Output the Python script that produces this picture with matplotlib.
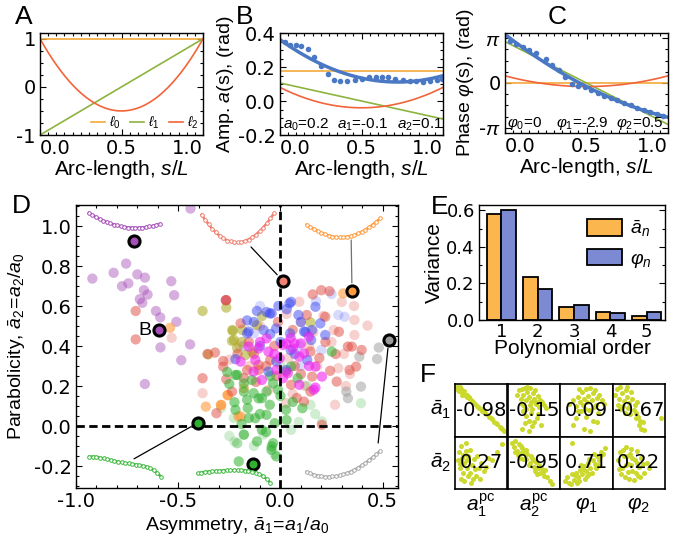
import numpy as np
import matplotlib.pyplot as plt
from matplotlib.ticker import MultipleLocator
from matplotlib.patches import Patch

plt.rcParams['font.family'] = ['Liberation Sans', 'DejaVu Sans']
plt.rcParams['mathtext.fontset'] = 'custom'
plt.rcParams['mathtext.rm'] = 'Liberation Sans'
plt.rcParams['mathtext.it'] = 'Liberation Sans:italic'
plt.rcParams['mathtext.bf'] = 'Liberation Sans:bold'
plt.rcParams['axes.linewidth'] = 1.0

# ---------------- data ----------------
# B: amplitude profile, Legendre coefficients of the fit and the measured points
amp_coef = [0.175, -0.106, 0.08]
amp_s = [0.031, 0.061, 0.096, 0.129, 0.169, 0.210, 0.249, 0.292, 0.333, 0.371, 0.412, 0.459,
         0.504, 0.545, 0.586, 0.624, 0.665, 0.708, 0.753, 0.796, 0.837, 0.878, 0.918, 0.963, 0.996]
amp_a = [0.345, 0.329, 0.327, 0.321, 0.304, 0.258, 0.203, 0.156, 0.124, 0.115, 0.119, 0.124,
         0.132, 0.142, 0.144, 0.144, 0.140, 0.132, 0.126, 0.120, 0.115, 0.113, 0.117, 0.122, 0.128]
amp_text = [r'$a_0$=0.2', r'$a_1$=-0.1', r'$a_2$=0.1']

# C: phase profile
phase_coef = [0.0, -2.9, 0.5]
phase_s = [0.03, 0.07, 0.11, 0.15, 0.19, 0.25, 0.29, 0.33, 0.37, 0.41, 0.45, 0.49,
           0.53, 0.57, 0.61, 0.65, 0.69, 0.73, 0.77, 0.81, 0.85, 0.89, 0.93, 0.97]
phase_v = [2.95, 2.72, 2.50, 2.33, 2.08, 1.70, 1.28, 0.88, 0.42, -0.05, -0.18, -0.30,
           -0.50, -0.72, -0.88, -1.05, -1.22, -1.38, -1.55, -1.72, -1.90, -2.05, -2.20, -2.30]
phase_text = [r'$\varphi_0$=0', r'$\varphi_1$=-2.9', r'$\varphi_2$=0.5']

# D: scatter of (asymmetry, parabolicity), grouped by colour
purple_x = [-0.92, -0.816, -0.755, -0.775, -0.744, -0.70, -0.663, -0.668, -0.65, -0.688, -0.676,
            -0.534, -0.52, -0.609, -0.588, -0.509, -0.587, -0.442, -0.485, -0.663, -0.44, -0.267]
purple_y = [0.737, 0.766, 0.812, 0.699, 0.713, 0.758, 0.742, 0.679, 0.657, 0.634, 0.616,
            0.724, 0.654, 0.575, 0.543, 0.521, 0.393, 0.408, 0.329, 0.210, 1.087, 0.629]
red_x = [-0.708, -0.708, -0.357, -0.320, -0.265, -0.381, -0.265, -0.28, -0.28, -0.313, -0.237, -0.267,
         0.219, 0.286, 0.330, 0.397, 0.349, 0.370, 0.338, 0.203, 0.275, 0.243, 0.147, -0.163, -0.107,
         0.028, 0.155, 0.147, 0.115, 0.052, -0.107, 0.24, 0.20, 0.158, -0.13, -0.05, 0.07, -0.02,
         -0.195, -0.155, -0.012, 0.129, 0.06, -0.07, -0.18, -0.03, 0.10, 0.19, -0.12, 0.08, -0.21,
         0.22, 0.27]
red_y = [0.575, 0.433, 0.36, 0.367, 0.629, 0.239, 0.234, 0.325, 0.297, 0.064, 0.172, 0.629,
         0.546, 0.471, 0.397, 0.380, 0.397, 0.297, 0.280, 0.006, 0.222, 0.276, 0.372, 0.280, 0.305,
         0.272, 0.247, 0.172, 0.122, 0.206, 0.280, 0.674, 0.679, 0.658, 0.36, 0.33, 0.30, 0.25,
         0.513, 0.42, 0.52, 0.555, 0.48, 0.30, 0.24, 0.40, 0.26, 0.34, 0.22, 0.14, 0.36,
         0.42, 0.36]
red_light_x = [-0.532, -0.381, -0.249, 0.092, 0.362, 0.426, 0.362, 0.267, 0.028, 0.283,
               0.30, 0.10, 0.25, 0.18, 0.32, -0.20, 0.06, 0.14, 0.21, 0.31,
               -0.10, 0.03, 0.16, 0.04, -0.15, 0.12, -0.06, 0.26, 0.34, 0.36]
red_light_y = [0.441, 0.164, 0.332, 0.621, 0.530, 0.502, 0.455, 0.106, 0.114, 0.289,
               0.62, 0.52, 0.42, 0.30, 0.20, 0.40, 0.16, 0.40, 0.55, 0.36,
               0.50, 0.56, 0.47, 0.34, 0.30, 0.20, 0.18, 0.48, 0.26, 0.60]
orange_x = [-0.54, -0.365, -0.290, -0.257, -0.206, -0.195, -0.179, -0.259, -0.291, 0.307]
orange_y = [0.491, 0.097, 0.104, 0.154, 0.048, 0.048, 0.189, 0.155, 0.106, 0.663]
olive_x = [-0.381, -0.265, -0.233, -0.237, -0.353, -0.212, -0.235, -0.187, -0.227, -0.171,
           -0.115, 0.147, -0.139, -0.19, -0.09]
olive_y = [0.575, 0.592, 0.475, 0.425, 0.358, 0.39, 0.48, 0.48, 0.43, 0.355,
           0.505, 0.518, 0.372, 0.42, 0.55]
blue_x = [0.052, 0.031, 0.088, -0.052, -0.115, -0.068, -0.163, 0.171, 0.195, 0.155, 0.115, 0.047,
          -0.021, -0.083, 0.219, -0.156, 0.044, -0.043, -0.163, 0.123, -0.059, 0.028, -0.020, 0.131,
          -0.22, 0.0, -0.10, 0.07, -0.01, 0.10, -0.13, 0.15, 0.05, -0.05]
blue_y = [0.621, 0.584, 0.555, 0.563, 0.575, 0.570, 0.528, 0.596, 0.513, 0.480, 0.472, 0.463,
          0.488, 0.480, 0.455, 0.472, 0.613, 0.563, 0.463, 0.471, 0.272, 0.280, 0.322, 0.330,
          0.334, 0.42, 0.40, 0.36, 0.60, 0.52, 0.52, 0.43, 0.38, 0.46]
blue_light_x = [0.174, -0.13, 0.314, 0.283, 0.092, 0.25, -0.10, 0.20, 0.10, -0.18]
blue_light_y = [0.624, 0.463, 0.546, 0.555, 0.405, 0.66, 0.60, 0.38, 0.30, 0.40]
magenta_x = [0.100, 0.060, 0.012, -0.059, -0.123, -0.004, 0.139, 0.203, 0.171, 0.092, 0.012, -0.131,
             -0.155, -0.107, -0.068, 0.028, 0.068, 0.092, 0.115, 0.163, 0.171, -0.091, 0.036, -0.195,
             -0.03, 0.05, -0.10, 0.14, -0.02]
magenta_y = [0.413, 0.388, 0.405, 0.372, 0.330, 0.338, 0.447, 0.247, 0.192, 0.206, 0.239, 0.272,
             0.397, 0.388, 0.438, 0.413, 0.413, 0.347, 0.363, 0.181, 0.297, 0.230, 0.264, 0.322,
             0.36, 0.44, 0.42, 0.30, 0.28]
green_x = [-0.220, -0.225, -0.220, -0.204, 0.052, 0.084, -0.068, -0.131, -0.179, -0.211, -0.163,
           -0.091, -0.052, 0.027, 0.107, -0.155, -0.068, -0.028, -0.179, -0.115, -0.036, -0.044,
           -0.020, 0.251, -0.179, -0.107, -0.036, -0.012, -0.123, -0.091, -0.043,
           -0.16, -0.10, -0.05, -0.25, 0.06, -0.14, 0.00, -0.19, -0.07, 0.03, -0.26]
green_y = [0.255, 0.119, 0.081, -0.177, 0.297, 0.239, 0.172, 0.164, 0.172, 0.255, 0.131,
           0.139, 0.106, 0.081, 0.089, 0.040, 0.056, 0.014, -0.043, -0.077, -0.086, -0.119,
           -0.152, 0.372, 0.213, 0.138, 0.213, 0.181, 0.039, -0.019, -0.102,
           0.09, 0.06, 0.25, 0.21, 0.12, 0.23, 0.15, 0.01, -0.03, 0.03, 0.27]
green_light_x = [-0.225, -0.212, -0.228, -0.001, 0.147, 0.052, -0.211, 0.203, -0.083, 0.394, -0.179,
                 -0.13, -0.25, 0.09, -0.03, 0.13, 0.17, -0.29]
green_light_y = [-0.078, -0.086, 0.04, 0.308, 0.106, -0.019, -0.086, 0.023, -0.043, 0.114, -0.044,
                 -0.10, -0.05, 0.02, -0.14, 0.20, 0.06, 0.09]
gray_x = [0.481, 0.473, 0.386, 0.394, 0.322, 0.330]
gray_y = [0.392, 0.335, 0.347, 0.197, 0.172, 0.139]

# D: highlighted example worms
hl_x = [-0.714, 0.012, 0.35, 0.53, -0.402, -0.135, -0.593]
hl_y = [0.924, 0.726, 0.674, 0.43, 0.017, -0.19, 0.478]

# D: amplitude profiles shown as insets (21 points along the body)
prof_purple = [1.00, 0.88, 0.75, 0.64, 0.52, 0.45, 0.36, 0.28, 0.24, 0.17, 0.15, 0.10, 0.10, 0.08,
               0.10, 0.10, 0.13, 0.17, 0.20, 0.27, 0.33]
prof_salmon = [1.00, 0.80, 0.66, 0.47, 0.36, 0.22, 0.16, 0.06, 0.05, 0.00, 0.02, 0.00, 0.06, 0.10,
               0.20, 0.27, 0.42, 0.52, 0.70, 0.86, 1.05]
prof_orange = [0.65, 0.55, 0.44, 0.34, 0.24, 0.16, 0.09, 0.04, 0.01, 0.00, 0.01, 0.03, 0.07, 0.13,
               0.20, 0.29, 0.40, 0.52, 0.66, 0.82, 1.00]
prof_gray = [0.19, 0.13, 0.08, 0.04, 0.02, 0.00, 0.00, 0.01, 0.02, 0.05, 0.09, 0.14, 0.20, 0.27,
             0.35, 0.44, 0.54, 0.64, 0.75, 0.87, 1.00]
prof_green1 = [1.00, 0.99, 0.97, 0.95, 0.92, 0.87, 0.82, 0.78, 0.75, 0.72, 0.70, 0.67, 0.63, 0.60,
               0.58, 0.55, 0.50, 0.43, 0.33, 0.18, 0.02]
prof_green2 = [0.75, 0.80, 0.84, 0.88, 0.90, 0.91, 0.93, 0.95, 0.97, 0.99, 1.00, 1.00, 0.98, 0.95,
               0.91, 0.86, 0.80, 0.71, 0.58, 0.35, 0.05]

# E: variance explained per polynomial order
orders = [1, 2, 3, 4, 5]
var_a = [0.582, 0.235, 0.071, 0.044, 0.022]
var_phi = [0.600, 0.172, 0.084, 0.037, 0.042]

# F: correlation matrix and the scatter clouds (normalised cell coords)
row_labels = [r'$\bar{a}_1$', r'$\bar{a}_2$']
col_labels = [r'$a_1^{\rm pc}$', r'$a_2^{\rm pc}$', r'$\varphi_1$', r'$\varphi_2$']
corr = [[-0.98, -0.15, 0.09, -0.67], [0.27, -0.95, 0.71, 0.22]]
f00_u = [0.03, 0.06, 0.08, 0.10, 0.13, 0.15, 0.18, 0.20, 0.23, 0.26, 0.29, 0.32, 0.35, 0.38, 0.42, 0.46,
         0.50, 0.55, 0.60, 0.65, 0.70, 0.75, 0.80, 0.85, 0.90, 0.94, 0.05, 0.12, 0.09, 0.17, 0.22, 0.07, 0.14,
         0.44, 0.52, 0.58, 0.68, 0.78, 0.88, 0.33, 0.27]
f00_v = [0.94, 0.92, 0.90, 0.86, 0.86, 0.82, 0.81, 0.78, 0.76, 0.73, 0.71, 0.67, 0.65, 0.62, 0.58, 0.55,
         0.52, 0.46, 0.42, 0.38, 0.33, 0.28, 0.24, 0.19, 0.15, 0.10, 0.88, 0.90, 0.94, 0.86, 0.80, 0.86, 0.79,
         0.56, 0.49, 0.44, 0.35, 0.26, 0.17, 0.68, 0.75]
f01_u = [0.18, 0.22, 0.25, 0.28, 0.30, 0.33, 0.35, 0.38, 0.40, 0.42, 0.45, 0.48, 0.50, 0.53, 0.55, 0.58,
         0.62, 0.66, 0.70, 0.74, 0.27, 0.32, 0.37, 0.43, 0.47, 0.52, 0.60, 0.30, 0.36, 0.41, 0.46, 0.56,
         0.28, 0.33, 0.40, 0.50, 0.58, 0.64, 0.35, 0.45]
f01_v = [0.80, 0.88, 0.72, 0.90, 0.80, 0.93, 0.70, 0.85, 0.76, 0.92, 0.66, 0.82, 0.72, 0.88, 0.62, 0.78,
         0.70, 0.66, 0.60, 0.55, 0.62, 0.58, 0.94, 0.60, 0.52, 0.68, 0.56, 0.48, 0.40, 0.30, 0.20, 0.35,
         0.15, 0.25, 0.10, 0.28, 0.42, 0.22, 0.52, 0.45]
f02_u = [0.18, 0.24, 0.30, 0.34, 0.38, 0.42, 0.46, 0.50, 0.54, 0.58, 0.62, 0.66, 0.70, 0.75, 0.80, 0.84,
         0.36, 0.44, 0.52, 0.60, 0.68, 0.48, 0.56, 0.64, 0.40, 0.72, 0.30, 0.50, 0.62, 0.25, 0.45, 0.58,
         0.70, 0.35]
f02_v = [0.62, 0.70, 0.58, 0.76, 0.66, 0.84, 0.72, 0.90, 0.78, 0.93, 0.82, 0.88, 0.74, 0.80, 0.70, 0.62,
         0.90, 0.60, 0.66, 0.70, 0.60, 0.52, 0.50, 0.56, 0.48, 0.45, 0.35, 0.38, 0.30, 0.22, 0.15, 0.10,
         0.28, 0.48]
f03_u = [0.05, 0.08, 0.12, 0.15, 0.18, 0.22, 0.25, 0.28, 0.32, 0.35, 0.38, 0.42, 0.46, 0.10, 0.20, 0.30,
         0.40, 0.14, 0.24, 0.34, 0.44, 0.48, 0.52, 0.50, 0.55, 0.58, 0.45, 0.60, 0.92, 0.28]
f03_v = [0.80, 0.90, 0.72, 0.94, 0.82, 0.68, 0.88, 0.76, 0.64, 0.84, 0.72, 0.60, 0.66, 0.60, 0.58, 0.55,
         0.50, 0.52, 0.45, 0.42, 0.45, 0.38, 0.30, 0.22, 0.15, 0.28, 0.35, 0.12, 0.35, 0.95]
f10_u = [0.06, 0.08, 0.10, 0.12, 0.14, 0.16, 0.18, 0.20, 0.22, 0.25, 0.28, 0.32, 0.36, 0.40, 0.45, 0.50,
         0.56, 0.62, 0.70, 0.80, 0.90, 0.12, 0.18, 0.24, 0.30, 0.10, 0.20, 0.35, 0.28, 0.15, 0.42, 0.48,
         0.22, 0.38, 0.60]
f10_v = [0.55, 0.70, 0.40, 0.82, 0.60, 0.30, 0.50, 0.72, 0.40, 0.62, 0.30, 0.45, 0.58, 0.25, 0.40, 0.50,
         0.35, 0.60, 0.55, 0.70, 0.85, 0.20, 0.15, 0.25, 0.12, 0.48, 0.88, 0.20, 0.75, 0.65, 0.62, 0.20,
         0.55, 0.38, 0.42]
f11_u = [0.08, 0.12, 0.15, 0.18, 0.22, 0.25, 0.28, 0.32, 0.35, 0.38, 0.42, 0.46, 0.50, 0.54, 0.58, 0.62,
         0.66, 0.70, 0.75, 0.80, 0.85, 0.14, 0.20, 0.26, 0.30, 0.36, 0.44, 0.52, 0.60, 0.68, 0.24, 0.40,
         0.48, 0.56, 0.72]
f11_v = [0.88, 0.80, 0.92, 0.72, 0.85, 0.68, 0.78, 0.70, 0.58, 0.66, 0.50, 0.60, 0.42, 0.52, 0.40, 0.30,
         0.38, 0.25, 0.22, 0.15, 0.10, 0.70, 0.64, 0.82, 0.58, 0.74, 0.62, 0.34, 0.46, 0.32, 0.60, 0.45,
         0.55, 0.28, 0.36]
f12_u = [0.10, 0.14, 0.18, 0.22, 0.26, 0.30, 0.34, 0.38, 0.42, 0.46, 0.50, 0.54, 0.58, 0.62, 0.66, 0.70,
         0.74, 0.78, 0.82, 0.86, 0.20, 0.28, 0.36, 0.44, 0.52, 0.60, 0.68, 0.76, 0.32, 0.48, 0.56, 0.64,
         0.72, 0.40, 0.56, 0.22]
f12_v = [0.15, 0.22, 0.12, 0.28, 0.18, 0.30, 0.22, 0.36, 0.28, 0.44, 0.34, 0.50, 0.40, 0.56, 0.48, 0.62,
         0.55, 0.70, 0.66, 0.78, 0.10, 0.26, 0.16, 0.38, 0.24, 0.30, 0.40, 0.62, 0.12, 0.20, 0.58, 0.66,
         0.46, 0.45, 0.28, 0.88]
f13_u = [0.10, 0.14, 0.18, 0.22, 0.26, 0.30, 0.34, 0.38, 0.42, 0.46, 0.50, 0.55, 0.60, 0.65, 0.70, 0.16,
         0.24, 0.32, 0.40, 0.48, 0.20, 0.28, 0.36, 0.44, 0.52, 0.12, 0.58, 0.30, 0.38, 0.46, 0.25, 0.35]
f13_v = [0.55, 0.70, 0.40, 0.62, 0.80, 0.48, 0.66, 0.35, 0.55, 0.72, 0.42, 0.60, 0.30, 0.50, 0.40, 0.28,
         0.22, 0.20, 0.18, 0.25, 0.75, 0.62, 0.45, 0.30, 0.22, 0.38, 0.48, 0.32, 0.60, 0.50, 0.45, 0.76]

# ---------------- styling ----------------
c_l0, c_l1, c_l2, c_fit = '#f2a93b', '#8cb43e', '#f2643a', '#4a78c4'
c_purple, c_red, c_orange, c_olive = '#a64fb8', '#e0483e', '#ff9a3c', '#a8a820'
c_blue, c_magenta, c_green, c_gray = '#3b46f0', '#f020f0', '#2eb02e', '#9a9a9a'
c_fdot = '#cbd82c'
num_font = 'DejaVu Sans'

W, H = 689, 542


def box(x0, y0, x1, y1):
    return [x0 / W, 1 - y1 / H, (x1 - x0) / W, (y1 - y0) / H]


def frame(ax, size=14):
    ax.tick_params(which='both', direction='in', top=True, right=True, labelsize=size, width=0.8, pad=3)
    ax.tick_params(which='major', length=4)
    ax.tick_params(which='minor', length=2)
    for lab in ax.get_xticklabels() + ax.get_yticklabels():
        lab.set_fontfamily(num_font)


def inset_xlabels(ax):
    labs = ax.get_xticklabels()
    labs[0].set_horizontalalignment('left')
    labs[-1].set_horizontalalignment('right')


fig = plt.figure(figsize=(W / 100, H / 100), dpi=100)

s = np.linspace(0, 1, 201)
leg = [np.ones_like(s), 2 * s - 1, 6 * s ** 2 - 6 * s + 1]
leg_col = [c_l0, c_l1, c_l2]

# ---- A: Legendre basis
axA = fig.add_axes(box(40, 33, 203, 135))
for k in range(3):
    axA.plot(s, leg[k], color=leg_col[k], lw=1.2, label=r'$\ell_%d$' % k)
axA.set_xlim(0, 1)
axA.set_ylim(-1, 1.12)
axA.set_yticks([-1, 0, 1], ['-1', '0', '1'])
axA.set_xticks([0, 0.5, 1], ['0.0', '0.5', '1.0'])
axA.xaxis.set_minor_locator(MultipleLocator(0.05))
axA.yaxis.set_minor_locator(MultipleLocator(0.25))
frame(axA)
inset_xlabels(axA)
axA.set_xlabel(r'Arc-length, $s/L$', fontsize=15, labelpad=0)
axA.legend(loc='lower right', ncol=3, fontsize=10, frameon=False, handlelength=1.0,
           handletextpad=0.3, columnspacing=0.7, borderaxespad=0.1, borderpad=0.2)

# ---- B: amplitude
axB = fig.add_axes(box(280, 33, 443, 135))
for k in range(3):
    axB.plot(s, amp_coef[k] * leg[k], color=leg_col[k], lw=1.2)
axB.plot(s, sum(amp_coef[k] * leg[k] for k in range(3)), color=c_fit, lw=2.5)
axB.plot(amp_s, amp_a, 'o', color=c_fit, ms=4, mec='none')
axB.set_xlim(0, 1)
axB.set_ylim(-0.2, 0.4)
axB.set_yticks([-0.2, 0, 0.2, 0.4], ['-0.2', '0.0', '0.2', '0.4'])
axB.set_xticks([0, 0.5, 1], ['0.0', '0.5', '1.0'])
axB.xaxis.set_minor_locator(MultipleLocator(0.05))
axB.yaxis.set_minor_locator(MultipleLocator(0.05))
frame(axB)
inset_xlabels(axB)
axB.set_xlabel(r'Arc-length, $s/L$', fontsize=15, labelpad=0)
axB.set_ylabel(r'Amp. $a$(s), (rad)', fontsize=14, labelpad=1)
for k, xt in enumerate([0.02, 0.35, 0.72]):
    axB.text(xt, 0.1, amp_text[k], transform=axB.transAxes, fontsize=11, va='center')

# ---- C: phase
axC = fig.add_axes(box(505, 33, 668, 133))
for k in range(3):
    axC.plot(s, phase_coef[k] * leg[k], color=leg_col[k], lw=1.2)
axC.plot(s, sum(phase_coef[k] * leg[k] for k in range(3)), color=c_fit, lw=2.5)
axC.plot(phase_s, phase_v, 'o', color=c_fit, ms=4, mec='none')
axC.set_xlim(0, 1)
axC.set_ylim(-3.5, 3.5)
axC.set_yticks([-np.pi, 0, np.pi], [r'-$\pi$', '0', r'$\pi$'])
axC.set_xticks([0, 0.5, 1], ['0.0', '0.5', '1.0'])
axC.xaxis.set_minor_locator(MultipleLocator(0.05))
axC.yaxis.set_minor_locator(MultipleLocator(np.pi / 4))
frame(axC)
inset_xlabels(axC)
axC.set_xlabel(r'Arc-length, $s/L$', fontsize=15, labelpad=0)
axC.set_ylabel(r'Phase $\varphi$(s), (rad)', fontsize=14, labelpad=2)
for k, xt in enumerate([0.01, 0.31, 0.68]):
    axC.text(xt, 0.1, phase_text[k], transform=axC.transAxes, fontsize=11, va='center')

# ---- D: asymmetry vs parabolicity
axD = fig.add_axes(box(76, 205, 398, 488))
ms_area = 55
groups = [
    (purple_x, purple_y, c_purple, 0.45),
    (red_light_x, red_light_y, c_red, 0.25),
    (blue_light_x, blue_light_y, c_blue, 0.2),
    (green_light_x, green_light_y, c_green, 0.22),
    (gray_x, gray_y, c_gray, 0.5),
    (orange_x, orange_y, c_orange, 0.6),
    (olive_x, olive_y, c_olive, 0.55),
    (red_x, red_y, c_red, 0.5),
    (green_x, green_y, c_green, 0.55),
    (blue_x, blue_y, c_blue, 0.5),
    (magenta_x, magenta_y, c_magenta, 0.6),
]
for gx, gy, gc, ga in groups:
    axD.scatter(gx, gy, s=ms_area, color=gc, alpha=ga, edgecolors='none', zorder=2)

axD.axvline(0, color='k', lw=2, ls=(0, (3, 1.6)), zorder=3)
axD.axhline(0, color='k', lw=2, ls=(0, (3, 1.6)), zorder=3)

hl_col = [c_purple, '#f08070', c_orange, c_gray, c_green, c_green, c_purple]
for hx, hy, hc in zip(hl_x, hl_y, hl_col):
    axD.plot(hx, hy, 'o', ms=8, mfc=hc, mec='k', mew=2.2, zorder=5)
axD.text(hl_x[6] - 0.04, hl_y[6], 'B', fontsize=14, ha='right', va='center')

# connectors from the insets to their worms: (worm index, start x, start y, colour)
links = [(1, -0.144, 0.895, 'k'), (2, 0.346, 0.93, '#707070'), (3, 0.478, -0.085, 'k'),
         (4, -0.716, -0.164, 'k')]
for i, lx, ly, lc in links:
    axD.annotate('', xy=(hl_x[i], hl_y[i]), xytext=(lx, ly),
                 arrowprops=dict(arrowstyle='-', color=lc, lw=0.9, shrinkA=0, shrinkB=6), zorder=4)

axD.set_xlim(-0.962, 0.575)
axD.set_ylim(-0.31, 1.105)
axD.set_xticks([-1, -0.5, 0, 0.5], ['-1.0', '-0.5', '0.0', '0.5'])
axD.set_yticks([-0.2, 0, 0.2, 0.4, 0.6, 0.8, 1.0], ['-0.2', '0.0', '0.2', '0.4', '0.6', '0.8', '1.0'])
axD.xaxis.set_minor_locator(MultipleLocator(0.1))
axD.yaxis.set_minor_locator(MultipleLocator(0.05))
frame(axD, 14)
axD.set_xlabel(r'Asymmetry, $\bar{a}_1\!=\!a_1/a_0$', fontsize=14, labelpad=3)
axD.set_ylabel(r'Parabolicity, $\bar{a}_2\!=\!a_2/a_0$', fontsize=14, labelpad=4)

# inset amplitude profiles: (profile, colour, bounds in axes fraction)
insets = [
    (prof_purple, c_purple, [0.040, 0.919, 0.221, 0.053]),
    (prof_salmon, '#f08070', [0.390, 0.868, 0.225, 0.103]),
    (prof_orange, c_orange, [0.716, 0.886, 0.228, 0.067]),
    (prof_gray, '#a8a8a8', [0.716, 0.040, 0.228, 0.091]),
    (prof_green1, '#3cb83c', [0.041, 0.040, 0.223, 0.071]),
    (prof_green2, '#3cb83c', [0.378, 0.018, 0.225, 0.046]),
]
for prof, pc, bnd in insets:
    ia = axD.inset_axes(bnd)
    ps = np.linspace(0, 1, len(prof))
    pfit = np.polyval(np.polyfit(ps, prof, 4), s)
    ia.plot(s, pfit, color=pc, lw=1.8, clip_on=False)
    ia.plot(ps, prof, 'o', ms=2.6, mfc='white', mec=pc, mew=0.7, clip_on=False)
    ia.set_xlim(0, 1)
    ia.set_ylim(min(prof), max(prof))
    ia.axis('off')

# ---- E: variance bars
axE = fig.add_axes(box(479, 205, 665, 320))
xo = np.array(orders)
axE.bar(xo - 0.2, var_a, width=0.4, color='#fbb64e', edgecolor='k', lw=1.3)
axE.bar(xo + 0.2, var_phi, width=0.4, color='#7b8ad2', edgecolor='k', lw=1.3)
axE.set_xlim(0.39, 5.5)
axE.set_ylim(0, 0.63)
axE.set_xticks(orders)
axE.set_yticks([0, 0.2, 0.4, 0.6], ['0.0', '0.2', '0.4', '0.6'])
axE.yaxis.set_minor_locator(MultipleLocator(0.1))
frame(axE, 13)
axE.tick_params(axis='x', which='both', length=0, top=False, pad=2)
axE.set_ylabel('Variance', fontsize=15, labelpad=2)
axE.set_xlabel('Polynomial order', fontsize=15, labelpad=-1)
axE.legend(handles=[Patch(facecolor='#fbb64e', edgecolor='k', lw=1.3, label=r'$\bar{a}_n$'),
                    Patch(facecolor='#7b8ad2', edgecolor='k', lw=1.3, label=r'$\varphi_n$')],
           loc='upper right', frameon=False, fontsize=14, handlelength=1.8, handleheight=0.9,
           handletextpad=0.4, borderaxespad=0.3, labelspacing=0.5)

# ---- F: correlation grid
cells = [[(f00_u, f00_v), (f01_u, f01_v), (f02_u, f02_v), (f03_u, f03_v)],
         [(f10_u, f10_v), (f11_u, f11_v), (f12_u, f12_v), (f13_u, f13_v)]]
cw = 52.5
for r in range(2):
    for c in range(4):
        x0 = 455 + c * cw
        y0 = 384 + r * cw
        axF = fig.add_axes(box(x0, y0, x0 + cw, y0 + cw))
        cu, cv = cells[r][c]
        axF.plot(cu, cv, 'o', ms=3.6, color=c_fdot, mec='none')
        axF.set_xlim(0, 1)
        axF.set_ylim(0, 1)
        axF.set_xticks([])
        axF.set_yticks([])
        for sp in axF.spines.values():
            sp.set_linewidth(1.2)
        axF.text(0.5, 0.5, '%.2f' % corr[r][c], fontsize=14, ha='center', va='center',
                 family=num_font, transform=axF.transAxes)
for r in range(2):
    fig.text(441 / W, 1 - (410 + r * cw) / H, row_labels[r], fontsize=15, ha='center', va='center')
for c in range(4):
    fig.text((481 + c * cw) / W, 1 - 505 / H, col_labels[c], fontsize=15, ha='center', va='center')

# panel letters
for lab, px, py in [('A', 24, 17), ('B', 245, 17), ('C', 557, 17), ('D', 21, 206),
                    ('E', 440, 207), ('F', 428, 375)]:
    fig.text(px / W, 1 - py / H, lab, fontsize=19, ha='center', va='center')

fig.savefig('out.png', dpi=100)
